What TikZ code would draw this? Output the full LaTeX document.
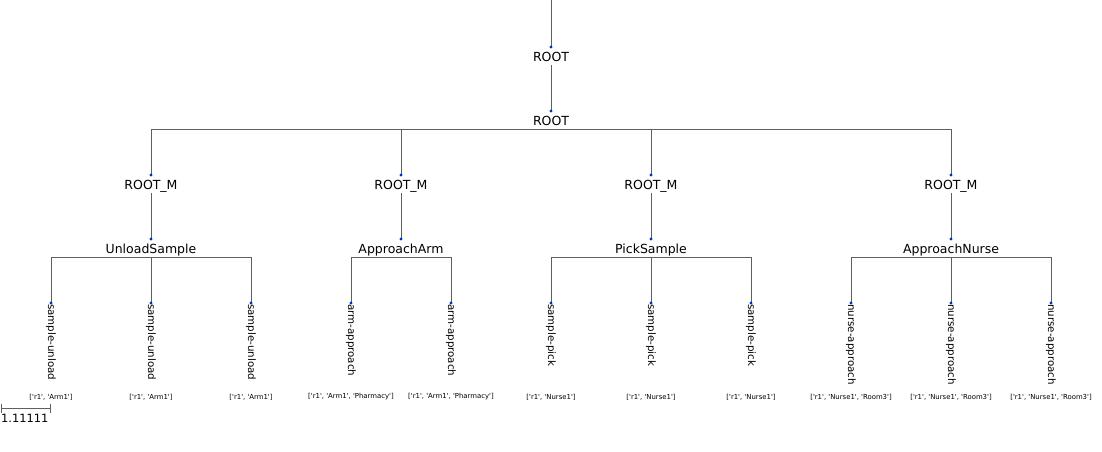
\documentclass[tikz,border=0pt]{standalone}
\usepackage{fontspec}
\setmainfont{DejaVu Sans}
\newcommand{\qq}{\textquotesingle}
\definecolor{edgec}{RGB}{95,95,95}
\definecolor{dotc}{RGB}{0,48,193}
\begin{document}
\begin{tikzpicture}[x=1pt,y=-1pt,
  edge/.style={draw=edgec,line width=0.9pt},
  dotnode/.style={circle,inner sep=0pt,minimum size=0.1pt},
  dotfill/.style={fill=dotc},
  lbl/.style={font=\fontsize{12.5}{14}\selectfont,inner sep=0pt,anchor=base},
  leaflbl/.style={font=\fontsize{10.25}{12}\selectfont,inner sep=0pt,anchor=west,rotate=-90},
  feat/.style={font=\fontsize{6.9}{8}\selectfont,inner sep=0pt},
  scalebar/.style={draw=edgec,line width=0.9pt}]
\useasboundingbox (0,0) rectangle (1102,452);

% root chain
\coordinate (top) at (551,0);
\node[dotnode] (d0) at (551,47) {};
\node[lbl] (n0) at (551,61) {ROOT};
\coordinate (b0) at (551,65);
\draw[edge] (top) -- (d0.center);
\fill[dotfill] (d0) circle (1.7pt);
\node[dotnode] (d1) at (551,111) {};
\node[lbl] (n1) at (551,125) {ROOT};
\draw[edge] (b0) -- (d1.center);
\fill[dotfill] (d1) circle (1.7pt);
\coordinate (h1L) at (151,129);
\coordinate (h1R) at (951,129);
\draw[edge] (h1L) -- (h1R);

% ROOT_M level and task level
\foreach \i/\x/\lab/\a/\b in {1/151/UnloadSample/51/251, 2/401/ApproachArm/351/451, 3/651/PickSample/551/751, 4/951/ApproachNurse/851/1051}{
  \coordinate (hm\i) at (\x,129);
  \node[dotnode] (dm\i) at (\x,175) {};
  \node[lbl] (m\i) at (\x,189) {ROOT\_M};
  \draw[edge] (hm\i) -- (dm\i.center);
  \fill[dotfill] (dm\i) circle (1.7pt);
  \coordinate (bm\i) at (\x,193);
  \node[dotnode] (dt\i) at (\x,239) {};
  \node[lbl] (t\i) at (\x,253) {\lab};
  \draw[edge] (bm\i) -- (dt\i.center);
  \fill[dotfill] (dt\i) circle (1.7pt);
  \coordinate (htL\i) at (\a,257);
  \coordinate (htR\i) at (\b,257);
  \draw[edge] (htL\i) -- (htR\i);
}

% leaves
\foreach \j/\x/\lab/\f in {
  1/51/sample-unload/{[\qq r1\qq, \qq Arm1\qq]},
  2/151/sample-unload/{[\qq r1\qq, \qq Arm1\qq]},
  3/251/sample-unload/{[\qq r1\qq, \qq Arm1\qq]},
  4/351/arm-approach/{[\qq r1\qq, \qq Arm1\qq, \qq Pharmacy\qq]},
  5/451/arm-approach/{[\qq r1\qq, \qq Arm1\qq, \qq Pharmacy\qq]},
  6/551/sample-pick/{[\qq r1\qq, \qq Nurse1\qq]},
  7/651/sample-pick/{[\qq r1\qq, \qq Nurse1\qq]},
  8/751/sample-pick/{[\qq r1\qq, \qq Nurse1\qq]},
  9/851/nurse-approach/{[\qq r1\qq, \qq Nurse1\qq, \qq Room3\qq]},
  10/951/nurse-approach/{[\qq r1\qq, \qq Nurse1\qq, \qq Room3\qq]},
  11/1051/nurse-approach/{[\qq r1\qq, \qq Nurse1\qq, \qq Room3\qq]}}{
  \coordinate (hl\j) at (\x,257);
  \node[dotnode] (dl\j) at (\x,303) {};
  \draw[edge] (hl\j) -- (dl\j.center);
  \fill[dotfill] (dl\j) circle (1.7pt);
  \node[leaflbl] (l\j) at (\x,304) {\lab};
  \node[feat] (f\j) at (\x,397) {\f};
}

% scale bar
\coordinate (sbL) at (1.5,408);
\coordinate (sbR) at (50.5,408);
\coordinate (sbLt) at (1.5,403.5);
\coordinate (sbLb) at (1.5,412.5);
\coordinate (sbRt) at (50.5,403.5);
\coordinate (sbRb) at (50.5,412.5);
\draw[scalebar] (sbL) -- (sbR);
\draw[scalebar] (sbLt) -- (sbLb);
\draw[scalebar] (sbRt) -- (sbRb);
\node[font=\fontsize{11.4}{13}\selectfont,inner sep=0pt,anchor=base west] (sbtxt) at (1,422) {1.11111};
\end{tikzpicture}
\end{document}
